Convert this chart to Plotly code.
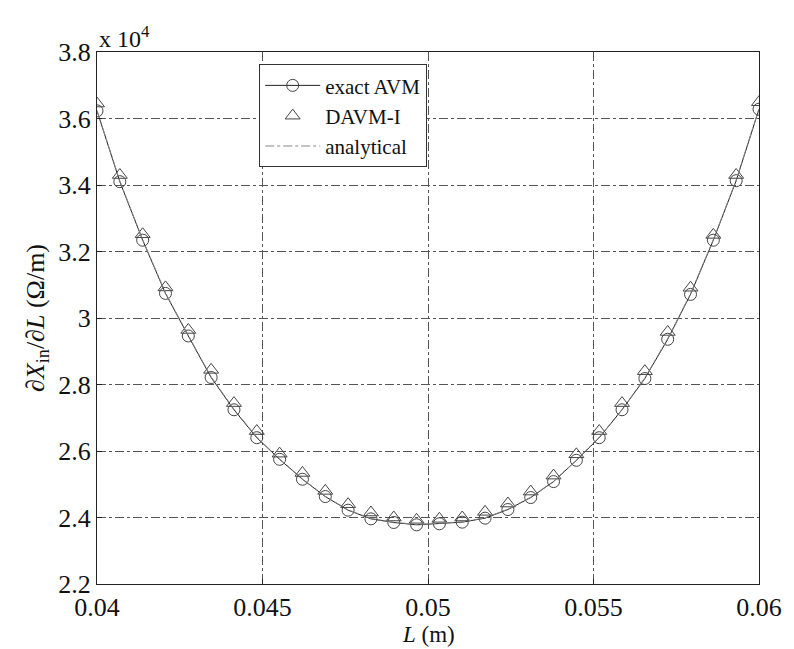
import numpy as np
import plotly.graph_objects as go

# Data (values in units of 1e4 Ohm/m)
L_m = [0.04 + i * 0.02 / 29 for i in range(30)]
exact_avm = [3.623, 3.410, 3.234, 3.074, 2.946, 2.821, 2.724, 2.640, 2.575, 2.515,
             2.463, 2.422, 2.396, 2.385, 2.378, 2.381, 2.386, 2.398, 2.424, 2.460,
             2.508, 2.572, 2.640, 2.724, 2.818, 2.936, 3.071, 3.234, 3.413, 3.628]
davm_i = [3.645, 3.430, 3.252, 3.092, 2.964, 2.844, 2.744, 2.660, 2.592, 2.534,
          2.480, 2.440, 2.415, 2.400, 2.393, 2.396, 2.400, 2.417, 2.442, 2.478,
          2.526, 2.590, 2.660, 2.744, 2.840, 2.958, 3.091, 3.250, 3.430, 3.649]
analytical = [3.625, 3.412, 3.236, 3.076, 2.948, 2.823, 2.726, 2.642, 2.576, 2.516,
              2.464, 2.423, 2.397, 2.386, 2.379, 2.382, 2.387, 2.399, 2.425, 2.461,
              2.509, 2.573, 2.641, 2.725, 2.820, 2.938, 3.073, 3.236, 3.415, 3.630]
x_ticks = [0.04, 0.045, 0.05, 0.055, 0.06]
y_ticks = [2.2, 2.4, 2.6, 2.8, 3.0, 3.2, 3.4, 3.6, 3.8]
y_ticklabels = ["2.2", "2.4", "2.6", "2.8", "3", "3.2", "3.4", "3.6", "3.8"]

FONT = "Liberation Serif"

fig = go.Figure()
fig.add_trace(go.Scatter(
    x=L_m, y=exact_avm, name="exact AVM", mode="lines+markers",
    line=dict(color="#222", width=1),
    marker=dict(symbol="circle-open", size=12, color="#444", line=dict(width=1)),
))
fig.add_trace(go.Scatter(
    x=L_m, y=davm_i, name="DAVM-I", mode="markers",
    marker=dict(symbol="triangle-up-open", size=13, color="#444", line=dict(width=1)),
))
fig.add_trace(go.Scatter(
    x=L_m, y=analytical, name="analytical", mode="lines",
    line=dict(color="#888", width=1, dash="dashdot"),
))

axis_common = dict(
    showline=True, linecolor="#222", linewidth=1, mirror=True,
    ticks="inside", ticklen=5, tickcolor="#222",
    showgrid=True, gridcolor="#555", gridwidth=1, griddash="dashdot",
    zeroline=False,
    tickfont=dict(family=FONT, size=26, color="#111"),
)

fig.update_xaxes(range=[0.04, 0.06], tickvals=x_ticks, **axis_common)
fig.update_yaxes(
    range=[2.2, 3.8], tickvals=y_ticks, ticktext=y_ticklabels,
    title=dict(text="∂<i>X</i><sub>in</sub>/∂<i>L</i> (Ω/m)",
               font=dict(family=FONT, size=26, color="#111"), standoff=6),
    **axis_common,
)

fig.add_annotation(
    xref="paper", yref="paper", x=0.5, y=0.0, xanchor="center", yanchor="top",
    text="<i>L</i> (m)", showarrow=False,
    font=dict(family=FONT, size=23, color="#111"), yshift=-36,
)
fig.add_annotation(
    xref="paper", yref="paper", x=0.0, y=1.0, xanchor="left", yanchor="bottom",
    text="x 10<sup>4</sup>", showarrow=False,
    font=dict(family=FONT, size=24, color="#111"), yshift=-2,
)

fig.update_layout(
    width=794, height=649,
    margin=dict(l=97, r=27, t=52, b=65),
    plot_bgcolor="white", paper_bgcolor="white",
    font=dict(family=FONT, color="#111"),
    showlegend=True,
    legend=dict(
        x=0.245, y=0.977, xanchor="left", yanchor="top",
        bgcolor="white", bordercolor="#333", borderwidth=1,
        font=dict(family=FONT, size=21, color="#111"),
        itemwidth=55, tracegroupgap=0,
    ),
)

fig.write_html("out.html")
